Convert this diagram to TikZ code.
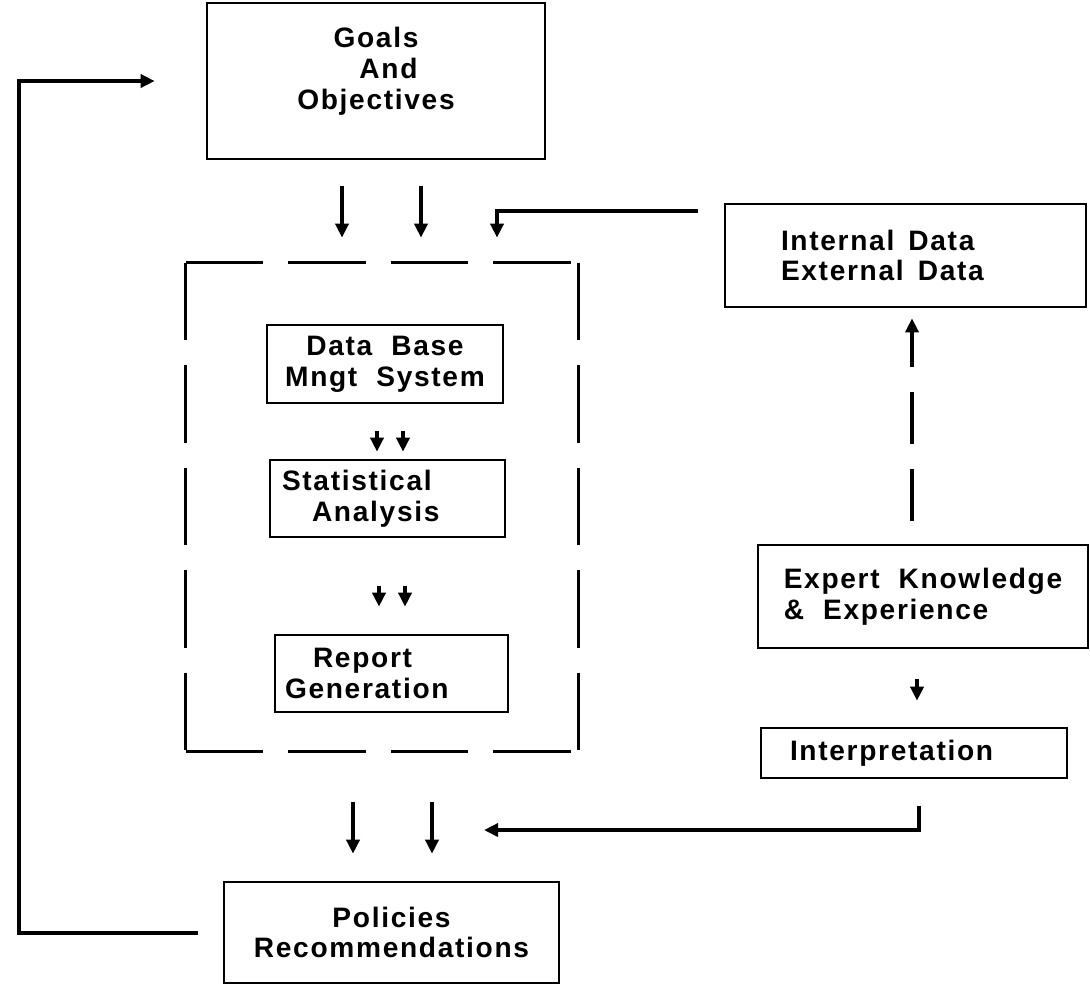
\documentclass[tikz,border=0pt]{standalone}
\usepackage{fontspec}
\newfontfamily\chartfont{Liberation Sans}[LetterSpace=6,WordSpace=2]
\usetikzlibrary{arrows.meta,positioning}
\tikzset{
  chartbox/.style={draw, line width=1.5pt, inner sep=0pt,
    font=\chartfont\bfseries\fontsize{16}{17.5}\selectfont},
  flowln/.style={-{Triangle[length=2.8mm,width=2.6mm]}, line width=2.3pt},
  gapln/.style={line width=1.5pt, dash pattern=on 1.55cm off 0.5cm},
  upln/.style={flowln, dash pattern=on 1.04cm off 0.5cm},
}

\begin{document}
\begin{tikzpicture}
    \useasboundingbox (0,0) rectangle (21.8,-19.76);
    % --- left column ---
    \node[chartbox, minimum width=6.76cm, minimum height=3.12cm, text depth=0.5cm, align=center] (goals) at (7.52,-1.62) {Goals\\\hspace*{0.5cm}And\\Objectives};
    \node[minimum width=7.84cm, minimum height=9.76cm, inner sep=0pt] (dbms) at (7.64,-10.14) {};
    \node[chartbox, minimum width=4.72cm, minimum height=1.56cm, align=center] (dbase) at (7.7,-7.28) {Data Base\\Mngt System};
    \node[chartbox, minimum height=1.54cm, inner xsep=0.24cm, text width=4.22cm, align=left] (stats) at (7.75,-9.97) {Statistical\\\hspace*{0.6cm}Analysis};
    \node[chartbox, minimum height=1.54cm, inner xsep=0.2cm, text width=4.26cm, align=left] (report) at (7.83,-13.47) {\hspace*{0.56cm}Report\\Generation};
    \node[chartbox, minimum width=6.7cm, minimum height=2.02cm, align=center] (policies) at (7.83,-18.65) {Policies\\Recommendations};
    % --- right column ---
    \node[chartbox, minimum height=2.06cm, inner xsep=1.12cm, text width=4.98cm, align=left] (datasrc) at (18.11,-5.11) {Internal\hspace{0.5em}Data\\External\hspace{0.5em}Data};
    \node[chartbox, minimum width=6.6cm, minimum height=2.06cm, align=left] (expert) at (18.46,-11.93) {Expert Knowledge\\\& Experience};
    \node[chartbox, minimum height=1.0cm, inner xsep=0.58cm, text width=4.96cm, align=left] (interp) at (18.28,-15.06) {Interpretation};
    \coordinate (merge) at (9.68,-16.6);
    \coordinate (loop) at (0.38,-1.62);
    % dashed frame round the processing steps
    \foreach \a/\b in {north west/north east, north east/south east, south west/south east, north west/south west}
      \draw[gapln] (dbms.\a) -- (dbms.\b);
    % goals and data into the frame
    \foreach \dx in {-0.68,0.9}
      \draw[flowln, shorten <=0.52cm, shorten >=0.5cm] ([xshift=\dx cm]goals.south) -- ([xshift=\dx cm]goals.south |- dbms.north);
    \draw[flowln, shorten <=0.52cm, shorten >=0.5cm] ([yshift=-0.16cm]datasrc.north west) -| ([xshift=2.3cm]dbms.north);
    % steps inside the frame
    \foreach \dx in {-0.16,0.36}
      \draw[flowln, shorten <=0.54cm, shorten >=0.14cm] ([xshift=\dx cm]dbase.south) -- ([xshift=\dx cm]dbase.south |- stats.north);
    \foreach \dx in {-0.17,0.35}
      \draw[flowln, shorten <=0.96cm, shorten >=0.54cm] ([xshift=\dx cm]stats.south) -- ([xshift=\dx cm]stats.south |- report.north);
    % frame down to the policies
    \foreach \dx in {-0.58,1.0}
      \draw[flowln, shorten <=1.02cm, shorten >=0.54cm] ([xshift=\dx cm]dbms.south) -- ([xshift=\dx cm]dbms.south |- policies.north);
    % feedback to the goals
    \draw[flowln, shorten <=0.5cm, shorten >=1.02cm] (policies.west) -- (policies.west -| loop) |- (goals.west);
    % right column
    \draw[upln, shorten <=0.46cm, shorten >=0.2cm] ([xshift=-0.22cm]expert.north) -- ([xshift=-0.22cm]expert.north |- datasrc.south);
    \draw[flowln, shorten <=0.6cm, shorten >=0.52cm] ([xshift=-0.12cm]expert.south) -- ([xshift=-0.12cm]expert.south |- interp.north);
    \draw[flowln, shorten <=0.54cm] ([xshift=0.1cm]interp.south) |- (merge);
\end{tikzpicture}
\end{document}
